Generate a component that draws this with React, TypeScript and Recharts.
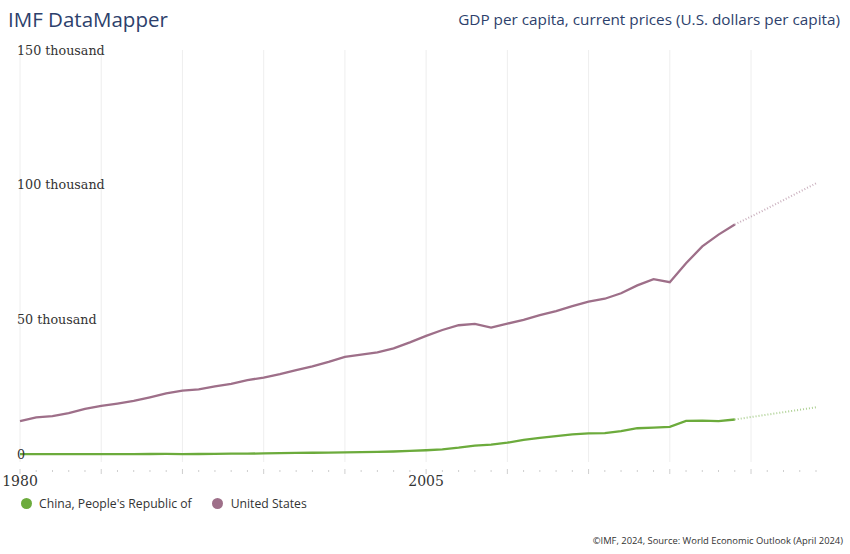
import React from "react";
import { LineChart, Line, XAxis, YAxis, ReferenceLine } from "recharts";

const years = [
  1980, 1981, 1982, 1983, 1984, 1985, 1986, 1987, 1988, 1989,
  1990, 1991, 1992, 1993, 1994, 1995, 1996, 1997, 1998, 1999,
  2000, 2001, 2002, 2003, 2004, 2005, 2006, 2007, 2008, 2009,
  2010, 2011, 2012, 2013, 2014, 2015, 2016, 2017, 2018, 2019,
  2020, 2021, 2022, 2023, 2024, 2025, 2026, 2027, 2028, 2029,
];

const china = [
  307, 290, 281, 300, 310, 294, 281, 299, 367, 407,
  348, 359, 420, 523, 475, 610, 709, 782, 829, 873,
  959, 1053, 1148, 1288, 1508, 1753, 2099, 2694, 3468, 3832,
  4550, 5614, 6301, 7020, 7636, 8016, 8094, 8817, 9905, 10144,
  10409, 12618, 12720, 12514, 13136, 14050, 14950, 15850, 16750, 17650,
];

const unitedStates = [
  12553, 13949, 14405, 15514, 17086, 18200, 19034, 20001, 21376, 22814,
  23848, 24303, 25393, 26365, 27695, 28691, 29968, 31459, 32854, 34514,
  36330, 37134, 37998, 39490, 41725, 44123, 46302, 48050, 48570, 47195,
  48651, 50066, 51784, 53291, 55124, 56763, 57867, 59915, 62805, 65095,
  63977, 70996, 77247, 81632, 85373, 88300, 91300, 94400, 97500, 100600,
];

const lastActualYear = 2024;
const gridYears = [1980, 1985, 1990, 1995, 2000, 2005, 2010, 2015, 2020, 2025];
const labeledYears = [1980, 2005];
const yTicks = [0, 50000, 100000, 150000];
const yTickLabels = ["0", "50 thousand", "100 thousand", "150 thousand"];

const series = [
  { key: "china", name: "China, People's Republic of", color: "#6cab3c" },
  { key: "us", name: "United States", color: "#9e6f89" },
];

const data = years.map((year, i) => ({
  year,
  china: year <= lastActualYear ? china[i] : null,
  us: year <= lastActualYear ? unitedStates[i] : null,
  chinaProj: year >= lastActualYear ? china[i] : null,
  usProj: year >= lastActualYear ? unitedStates[i] : null,
}));

const sans = "'Open Sans', 'Noto Sans', sans-serif";
const serif = "'DejaVu Serif', serif";

function XTick(props: any) {
  const { x, y, payload } = props;
  const year = payload.value;
  const major = year % 5 === 0;
  return (
    <g>
      <line
        x1={x}
        x2={x}
        y1={y + (major ? 7 : 8)}
        y2={y + (major ? 12 : 10)}
        stroke="#cfcfcf"
        strokeWidth={1}
      />
      {labeledYears.includes(year) && (
        <text x={x} y={y + 24} textAnchor="middle" fontFamily={serif} fontSize={14} fill="#333">
          {year}
        </text>
      )}
    </g>
  );
}

function YTick(props: any) {
  const { y, payload } = props;
  const idx = yTicks.indexOf(payload.value);
  return (
    <text x={17} y={y} dy={4.5} textAnchor="start" fontFamily={serif} fontSize={12.7} fill="#333">
      {yTickLabels[idx]}
    </text>
  );
}

function LegendBox() {
  return (
    <div
      style={{
        position: "absolute",
        left: 20.5,
        top: 495,
        display: "flex",
        alignItems: "center",
        fontFamily: sans,
        fontSize: 12.2,
        color: "#333",
        whiteSpace: "nowrap",
      }}
    >
      {series.map((s) => (
        <div key={s.key} style={{ display: "flex", alignItems: "center", marginRight: 20.5 }}>
          <span
            style={{
              width: 11,
              height: 11,
              borderRadius: 6,
              background: s.color,
              display: "inline-block",
              marginRight: 7.5,
            }}
          />
          <span>{s.name}</span>
        </div>
      ))}
    </div>
  );
}

export default function App() {
  return (
    <div style={{ position: "absolute", left: 0, top: 0, width: 850, height: 554, background: "#fff" }}>
      <div
        style={{
          position: "absolute",
          left: 8,
          top: 5,
          fontFamily: sans,
          fontSize: 20.5,
          color: "#2d3f6c",
          whiteSpace: "nowrap",
        }}
      >
        IMF DataMapper
      </div>
      <div
        style={{
          position: "absolute",
          right: 10,
          top: 9,
          fontFamily: sans,
          fontSize: 15.3,
          color: "#2d3f6c",
          whiteSpace: "nowrap",
        }}
      >
        GDP per capita, current prices (U.S. dollars per capita)
      </div>
      <div style={{ position: "absolute", left: 0, top: 0 }}>
        <LineChart
          width={850}
          height={500}
          data={data}
          margin={{ top: 50, right: 34, bottom: 8, left: 19 }}
        >
          {gridYears.map((y) => (
            <ReferenceLine key={y} x={y} stroke="#eeeeee" strokeWidth={1} />
          ))}
          <XAxis
            dataKey="year"
            type="number"
            domain={[1980, 2029]}
            ticks={years}
            interval={0}
            axisLine={false}
            tickLine={false}
            tickSize={0}
            tickMargin={0}
            height={30}
            tick={<XTick />}
          />
          <YAxis
            type="number"
            domain={[-2600, 150000]}
            ticks={yTicks}
            interval={0}
            width={1}
            axisLine={false}
            tickLine={false}
            tick={<YTick />}
            allowDataOverflow
          />
          <Line
            dataKey="chinaProj"
            stroke="#6cab3c"
            strokeOpacity={0.55}
            strokeWidth={2}
            strokeDasharray="1 2"
            dot={false}
            isAnimationActive={false}
          />
          <Line
            dataKey="usProj"
            stroke="#9e6f89"
            strokeOpacity={0.55}
            strokeWidth={2}
            strokeDasharray="1 2"
            dot={false}
            isAnimationActive={false}
          />
          <Line
            dataKey="china"
            stroke="#6cab3c"
            strokeWidth={2.3}
            dot={false}
            isAnimationActive={false}
          />
          <Line
            dataKey="us"
            stroke="#9e6f89"
            strokeWidth={2.3}
            dot={false}
            isAnimationActive={false}
          />
        </LineChart>
      </div>
      <LegendBox />
      <div
        style={{
          position: "absolute",
          right: 7,
          top: 534,
          fontFamily: sans,
          fontSize: 9.4,
          color: "#333",
          whiteSpace: "nowrap",
        }}
      >
        ©IMF, 2024, Source: World Economic Outlook (April 2024)
      </div>
    </div>
  );
}
